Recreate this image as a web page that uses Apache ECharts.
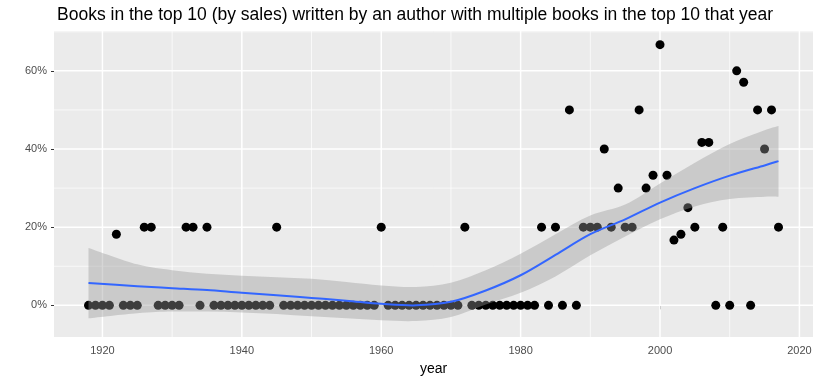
<!DOCTYPE html>
<html><head><meta charset="utf-8">
<script src="https://cdn.jsdelivr.net/npm/echarts@6/dist/echarts.min.js"></script>
<style>html,body{margin:0;padding:0;background:#fff}#c{width:821px;height:380px}</style>
</head><body><div id="c"></div>
<script>
// Observed points: one value per year
const years = [1918,1919,1920,1921,1922,1923,1924,1925,1926,1927,1928,1929,1930,1931,1932,1933,1934,1935,1936,1937,1938,1939,1940,1941,1942,1943,1944,1945,1946,1947,1948,1949,1950,1951,1952,1953,1954,1955,1956,1957,1958,1959,1960,1961,1962,1963,1964,1965,1966,1967,1968,1969,1970,1971,1972,1973,1974,1975,1976,1977,1978,1979,1980,1981,1982,1983,1984,1985,1986,1987,1988,1989,1990,1991,1992,1993,1994,1995,1996,1997,1998,1999,2000,2001,2002,2003,2004,2005,2006,2007,2008,2009,2010,2011,2012,2013,2014,2015,2016,2017];
const shares = [0,0,0,0,0.182,0,0,0,0.2,0.2,0,0,0,0,0.2,0.2,0,0.2,0,0,0,0,0,0,0,0,0,0.2,0,0,0,0,0,0,0,0,0,0,0,0,0,0,0.2,0,0,0,0,0,0,0,0,0,0,0,0.2,0,0,0,0,0,0,0,0,0,0,0.2,0,0.2,0,0.5,0,0.2,0.2,0.2,0.4,0.2,0.3,0.2,0.2,0.5,0.3,0.333,0.667,0.333,0.167,0.182,0.25,0.2,0.417,0.417,0,0.2,0,0.6,0.571,0,0.5,0.4,0.5,0.2];

// Loess fit and its confidence band
const smoothYears = [1918,1925,1930,1935,1940,1945,1950,1955,1960,1965,1970,1975,1980,1985,1990,1995,2000,2005,2010,2015,2017];
const smoothFit   = [0.057,0.049,0.044,0.039,0.032,0.026,0.019,0.012,0.004,0.000,0.009,0.038,0.077,0.129,0.182,0.220,0.263,0.300,0.332,0.358,0.369];
const smoothUpper = [0.147,0.105,0.090,0.081,0.076,0.072,0.068,0.060,0.051,0.047,0.058,0.090,0.132,0.182,0.230,0.258,0.312,0.365,0.413,0.448,0.459];
const smoothLower = [-0.033,-0.020,-0.016,-0.016,-0.018,-0.022,-0.028,-0.033,-0.038,-0.040,-0.030,0.002,0.032,0.074,0.128,0.176,0.220,0.253,0.272,0.278,0.278];

const xTicks = [1920,1940,1960,1980,2000,2020];
const xMinor = [1930,1950,1970,1990,2010];
const yTicks = [0,0.2,0.4,0.6];
const yMinor = [0.1,0.3,0.5,0.7];

const FONT = 'Liberation Sans';
const chart = echarts.init(document.getElementById('c'), null, {renderer:'canvas'});

// Catmull-Rom -> cubic Bezier path through screen points
function curvePath(pts, start) {
  let d = start ? 'M' + pts[0][0] + ' ' + pts[0][1] : 'L' + pts[0][0] + ' ' + pts[0][1];
  for (let i = 0; i < pts.length - 1; i++) {
    const p0 = pts[Math.max(i - 1, 0)], p1 = pts[i], p2 = pts[i + 1], p3 = pts[Math.min(i + 2, pts.length - 1)];
    const c1x = p1[0] + (p2[0] - p0[0]) / 6, c1y = p1[1] + (p2[1] - p0[1]) / 6;
    const c2x = p2[0] - (p3[0] - p1[0]) / 6, c2y = p2[1] - (p3[1] - p1[1]) / 6;
    d += ' C' + c1x + ' ' + c1y + ' ' + c2x + ' ' + c2y + ' ' + p2[0] + ' ' + p2[1];
  }
  return d;
}

chart.setOption({
  animation:false,
  backgroundColor:'#ffffff',
  title:{text:'Books in the top 10 (by sales) written by an author with multiple books in the top 10 that year',
    left:52, top:1, textStyle:{fontFamily:FONT, fontSize:17.5, fontWeight:'normal', color:'#000'}},
  grid:{left:54, right:8, top:31, bottom:43, show:true, backgroundColor:'#EBEBEB', borderWidth:0,
    containLabel:false, outerBoundsMode:'none'},
  xAxis:{type:'value', min:1913.05, max:2021.95,
    name:'year', nameLocation:'middle', nameGap:25,
    nameTextStyle:{fontFamily:FONT, fontSize:14, color:'#000'},
    axisLine:{show:false},
    axisTick:{show:true, customValues:xTicks, length:4, lineStyle:{color:'#333333', width:1}},
    axisLabel:{customValues:xTicks, margin:8, fontFamily:FONT, fontSize:11, color:'#4D4D4D',
      formatter:v => String(Math.round(v))},
    splitLine:{show:false}},
  yAxis:{type:'value', min:-0.081, max:0.702,
    axisLine:{show:false},
    axisTick:{show:true, customValues:yTicks, length:3, lineStyle:{color:'#333333', width:1}},
    axisLabel:{customValues:yTicks, margin:7, fontFamily:FONT, fontSize:11, color:'#4D4D4D',
      formatter:v => Math.round(v*100) + '%'},
    splitLine:{show:false}},
  series:[
    {type:'custom', z:1, silent:true, data:[[0]],
      renderItem:(params, api) => {
        const cs = params.coordSys, children = [];
        const vline = (v, w) => { const x = api.coord([v, 0])[0];
          children.push({type:'line', shape:{x1:x, y1:cs.y, x2:x, y2:cs.y + cs.height}, style:{stroke:'#fff', lineWidth:w}}); };
        const hline = (v, w) => { const y = api.coord([xTicks[0], v])[1];
          children.push({type:'line', shape:{x1:cs.x, y1:y, x2:cs.x + cs.width, y2:y}, style:{stroke:'#fff', lineWidth:w}}); };
        xMinor.forEach(v => vline(v, 0.7)); yMinor.forEach(v => hline(v, 0.7));
        xTicks.forEach(v => vline(v, 1.5)); yTicks.forEach(v => hline(v, 1.5));
        return {type:'group', children};
      }},
    {type:'scatter', z:2, symbolSize:9, itemStyle:{color:'#000', opacity:1},
      data:years.map((y,i)=>[y, shares[i]])},
    {type:'custom', z:3, silent:true, data:[[0]],
      renderItem:(params, api) => {
        const up = smoothYears.map((y,i)=>api.coord([y, smoothUpper[i]]));
        const lo = smoothYears.map((y,i)=>api.coord([y, smoothLower[i]])).reverse();
        const fit = smoothYears.map((y,i)=>api.coord([y, smoothFit[i]]));
        return {type:'group', children:[
          {type:'path', shape:{pathData: curvePath(up, true) + ' ' + curvePath(lo, false) + ' Z'},
            style:{fill:'rgba(153,153,153,0.4)', stroke:null}},
          {type:'path', shape:{pathData: curvePath(fit, true)},
            style:{fill:null, stroke:'#3366FF', lineWidth:2}}
        ]};
      }}
  ]
});
</script></body></html>
